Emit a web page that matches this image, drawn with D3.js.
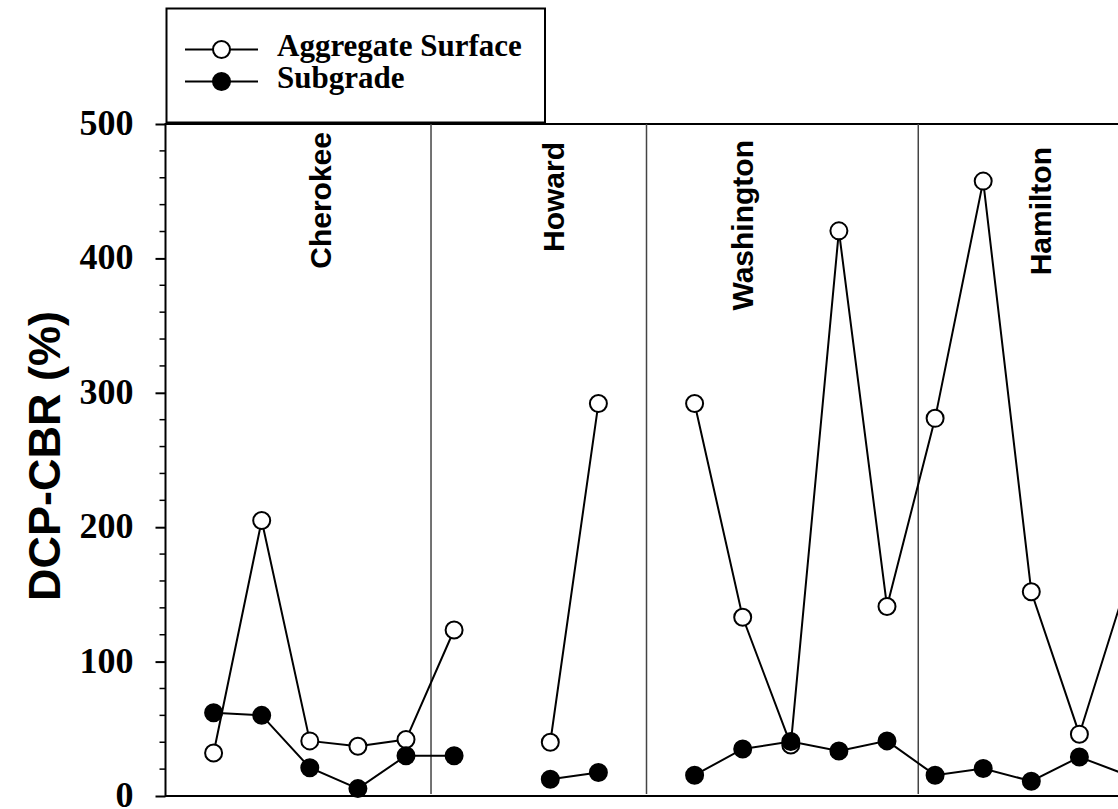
<!DOCTYPE html>
<html>
<head>
<meta charset="utf-8">
<script src="https://cdn.jsdelivr.net/npm/d3@7"></script>
<style>
  html, body { margin: 0; padding: 0; background: #fff; overflow: hidden; }
  svg { display: block; }
</style>
</head>
<body>
<svg id="chart" width="1118" height="809"></svg>
<script>
// Test section index along the road survey (1..20); null marks a gap between counties
const sections = d3.range(1, 21);
const aggregateSurface = [32, 205, 41, 37, 42, 123.5, null, 40, 292, null,
                          292, 133, 38, 420.5, 141, 281, 457.5, 152, 46, 160];
const subgrade = [62, 60, 21, 5.5, 30, 30, null, 12.5, 17.5, null,
                  15.5, 35, 40.5, 33.5, 41, 15.5, 20.5, 11, 29, 15.5];

// County groups: label position and right-hand divider (in section units)
const counties = ["Cherokee", "Howard", "Washington", "Hamilton"];
const countyLabelAt = [3.22, 8.06, 11.99, 18.19];
const dividersAt = [5.52, 10.0, 15.65];

const yTicks = [0, 100, 200, 300, 400, 500];
const seriesNames = ["Aggregate Surface", "Subgrade"];

const svg = d3.select("#chart");
const plotLeft = 165.5, plotTop = 124, plotBottom = 796, step = 48.1;

const x = d3.scaleLinear().domain([0, 20]).range([plotLeft, plotLeft + step * 20]);
const y = d3.scaleLinear().domain([0, 500]).range([plotBottom, plotTop]);

// Y axis with labelled major ticks and minor ticks every 20
const minor = d3.range(0, 501, 20).filter(v => v % 100 !== 0);
svg.append("g").selectAll("line").data(minor).join("line")
  .attr("x1", plotLeft - 6).attr("x2", plotLeft)
  .attr("y1", d => y(d)).attr("y2", d => y(d))
  .attr("stroke", "#000").attr("stroke-width", 1.5);

const yAxis = d3.axisLeft(y).tickValues(yTicks).tickSize(10).tickPadding(22);
const gy = svg.append("g").attr("transform", `translate(${plotLeft},0)`).call(yAxis);
gy.select(".domain").remove();
gy.selectAll(".tick line").attr("stroke", "#000").attr("stroke-width", 2);
gy.selectAll(".tick text")
  .attr("fill", "#000")
  .attr("dy", "0.29em")
  .style("font-family", "'Liberation Serif', 'Times New Roman', serif")
  .style("font-weight", "bold")
  .style("font-size", "36px");

// Frame: left axis, baseline and top edge
svg.append("line").attr("x1", plotLeft).attr("x2", plotLeft).attr("y1", plotTop - 1).attr("y2", plotBottom + 1)
  .attr("stroke", "#000").attr("stroke-width", 2);
svg.append("line").attr("x1", plotLeft).attr("x2", 1118).attr("y1", plotBottom).attr("y2", plotBottom)
  .attr("stroke", "#000").attr("stroke-width", 2);
svg.append("line").attr("x1", plotLeft).attr("x2", 1118).attr("y1", plotTop).attr("y2", plotTop)
  .attr("stroke", "#000").attr("stroke-width", 2);

// County dividers
svg.append("g").selectAll("line").data(dividersAt).join("line")
  .attr("x1", d => x(d)).attr("x2", d => x(d))
  .attr("y1", plotTop).attr("y2", plotBottom - 2)
  .attr("stroke", "#444").attr("stroke-width", 1.5);

// County labels, rotated
const labelTop = [132, 142, 140, 147];
svg.append("g").selectAll("text").data(counties).join("text")
  .attr("transform", (d, i) => `translate(${x(countyLabelAt[i]) + 10.5},${labelTop[i]}) rotate(-90)`)
  .attr("text-anchor", "end")
  .style("font-family", "'Liberation Sans', Arial, sans-serif")
  .style("font-weight", "bold")
  .style("font-size", "30px")
  .text(d => d);

// Y axis title
svg.append("text")
  .attr("transform", `translate(60,456) rotate(-90)`)
  .attr("text-anchor", "middle")
  .style("font-family", "'Liberation Sans', Arial, sans-serif")
  .style("font-weight", "bold")
  .style("font-size", "45px")
  .text("DCP-CBR (%)");

// Series lines and markers
const line = d3.line()
  .defined(d => d.v !== null)
  .x(d => x(d.s)).y(d => y(d.v));

function drawSeries(values, fill) {
  const pts = sections.map((s, i) => ({ s, v: values[i] }));
  svg.append("path").datum(pts)
    .attr("d", line).attr("fill", "none")
    .attr("stroke", "#000").attr("stroke-width", 2);
  svg.append("g").selectAll("circle").data(pts.filter(d => d.v !== null)).join("circle")
    .attr("cx", d => x(d.s)).attr("cy", d => y(d.v)).attr("r", 8.5)
    .attr("fill", fill).attr("stroke", "#000").attr("stroke-width", 2);
}
drawSeries(aggregateSurface, "#fff");
drawSeries(subgrade, "#000");

// Legend
const lg = svg.append("g");
lg.append("rect").attr("x", 166.5).attr("y", 8.5).attr("width", 378.5).attr("height", 114)
  .attr("fill", "#fff").attr("stroke", "#000").attr("stroke-width", 2);
const legendRows = lg.selectAll("g.row").data(seriesNames).join("g")
  .attr("class", "row")
  .attr("transform", (d, i) => `translate(0,${[49.5, 81.5][i]})`);
legendRows.append("line").attr("x1", 185).attr("x2", 258).attr("y1", 0).attr("y2", 0)
  .attr("stroke", "#000").attr("stroke-width", 2);
legendRows.append("circle").attr("cx", 221.5).attr("cy", 0).attr("r", 8.5)
  .attr("fill", (d, i) => i === 0 ? "#fff" : "#000")
  .attr("stroke", "#000").attr("stroke-width", 2);
legendRows.append("text").attr("x", 277).attr("y", 6.5)
  .style("font-family", "'Liberation Serif', 'Times New Roman', serif")
  .style("font-weight", "bold")
  .style("font-size", "31px")
  .text(d => d);
</script>
</body>
</html>
